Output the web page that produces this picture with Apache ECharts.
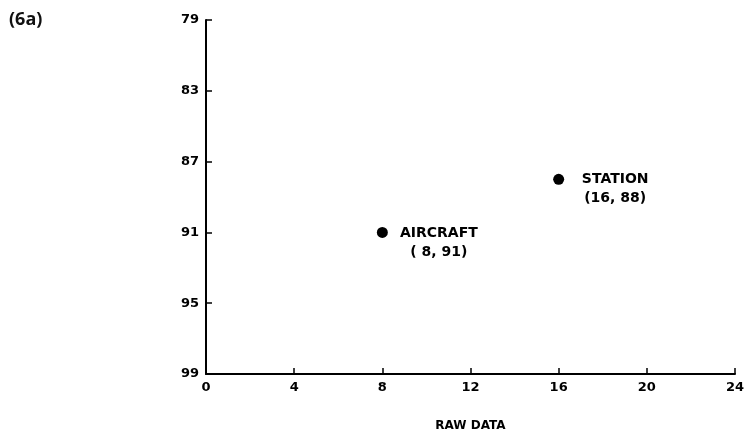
<!DOCTYPE html>
<html><head><meta charset="utf-8">
<script src="https://cdn.jsdelivr.net/npm/echarts@6/dist/echarts.min.js"></script>
<style>html,body{margin:0;padding:0;background:#fff}#c{width:748px;height:434px}</style>
</head><body><div id="c"></div>
<script>
var pointNames = ['AIRCRAFT', 'STATION'];
var xValues = [8, 16];
var yValues = [91, 88];
var xTicks = [0, 4, 8, 12, 16, 20, 24];
var yTicks = [79, 83, 87, 91, 95, 99];
var xTitle = 'RAW DATA';
var panelLabel = '(6a)';

var data = pointNames.map(function (n, i) { return { name: n, value: [xValues[i], yValues[i]] }; });
var chart = echarts.init(document.getElementById('c'));
var font = '"DejaVu Sans", "Liberation Sans", sans-serif';
chart.setOption({
  animation: false,
  backgroundColor: '#fff',
  title: { text: panelLabel, left: 4, top: 6, textStyle: { fontFamily: '"Open Sans", sans-serif', fontSize: 18, fontWeight: 'bold', color: '#111' } },
  grid: { left: 206, right: 13, top: 20, bottom: 60, outerBoundsMode: 'none', containLabel: false },
  xAxis: {
    type: 'value', min: xTicks[0], max: xTicks[xTicks.length - 1], interval: 4,
    name: xTitle, nameLocation: 'middle', nameGap: 46,
    nameTextStyle: { fontFamily: font, fontWeight: 'bold', fontSize: 12, color: '#000' },
    axisLine: { lineStyle: { color: '#000', width: 2 } },
    axisTick: { show: true, inside: true, length: 6, lineStyle: { color: '#000', width: 1.5 } },
    axisLabel: { fontFamily: font, fontWeight: 'bold', fontSize: 13, color: '#000', margin: 7 },
    splitLine: { show: false }
  },
  yAxis: {
    type: 'value', min: yTicks[0], max: yTicks[yTicks.length - 1], inverse: true,
    axisLine: { show: true, lineStyle: { color: '#000', width: 2 } },
    axisTick: { show: true, inside: true, length: 6, customValues: yTicks, lineStyle: { color: '#000', width: 1.5 } },
    axisLabel: { customValues: yTicks, fontFamily: font, fontWeight: 'bold', fontSize: 13, color: '#000', margin: 7 },
    splitLine: { show: false }
  },
  series: [{
    type: 'scatter', symbol: 'circle', symbolSize: 11,
    itemStyle: { color: '#000', opacity: 1 },
    data: data,
    label: {
      show: true, position: 'right', distance: 0,
      align: 'center', verticalAlign: 'top', offset: [51, -9],
      lineHeight: 19,
      fontFamily: font, fontWeight: 'bold', fontSize: 14, color: '#000',
      formatter: function (p) {
        var x = p.value[0], y = p.value[1];
        var xs = x < 10 ? ' ' + x : '' + x;
        return p.name + '\n(' + xs + ', ' + y + ')';
      }
    }
  }]
});
</script></body></html>
